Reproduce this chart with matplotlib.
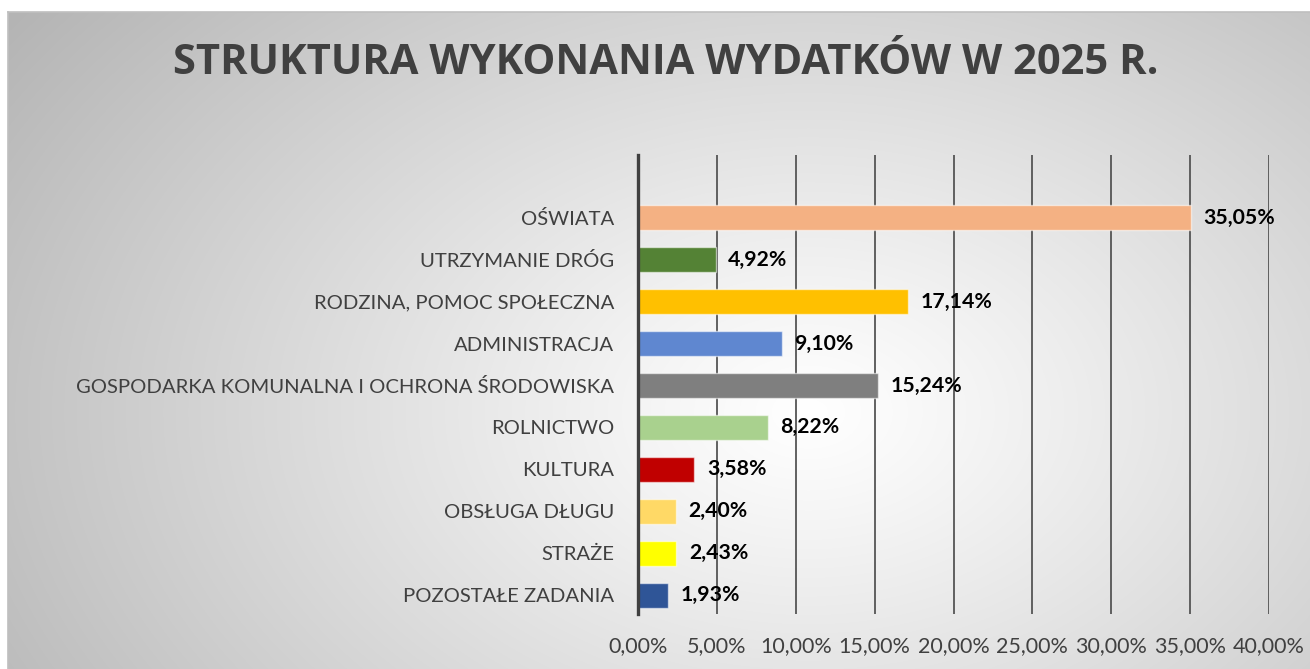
import numpy as np
import matplotlib
matplotlib.use("Agg")
import matplotlib.pyplot as plt
from matplotlib.ticker import FuncFormatter

categories = ["OŚWIATA", "UTRZYMANIE DRÓG", "RODZINA, POMOC SPOŁECZNA", "ADMINISTRACJA",
              "GOSPODARKA KOMUNALNA I OCHRONA ŚRODOWISKA", "ROLNICTWO", "KULTURA",
              "OBSŁUGA DŁUGU", "STRAŻE", "POZOSTAŁE ZADANIA"]
values = [35.05, 4.92, 17.14, 9.10, 15.24, 8.22, 3.58, 2.40, 2.43, 1.93]
colors = ["#F4B183", "#548235", "#FFC000", "#5F87D0", "#7F7F7F", "#A9D18E",
          "#C00000", "#FFD966", "#FFFF00", "#2F5597"]
xticks = [0, 5, 10, 15, 20, 25, 30, 35, 40]
title = "STRUKTURA WYKONANIA WYDATKÓW W 2025 R."

W, H = 1310, 669
fig = plt.figure(figsize=(W / 100, H / 100), dpi=100)
fig.patch.set_facecolor("white")

# background radial gradient panel
bx0, by_top = 8, 12
bg = fig.add_axes([bx0 / W, 0, 1 - bx0 / W, (H - by_top) / H])
gw, gh = W - bx0, H - by_top
yy, xx = np.mgrid[0:gh, 0:gw]
cx, cy = 800, 400
r = np.sqrt(((xx - cx) / 820.0) ** 2 + ((yy - cy) / 560.0) ** 2)
v = 1 - 0.24 * np.clip(r, 0, 1.2) ** 1.1
img = np.dstack([v, v, v])
bg.imshow(img, aspect="auto", extent=[0, 1, 0, 1], interpolation="bilinear")
bg.set_xlim(0, 1); bg.set_ylim(0, 1)
bg.axis("off")
fig.add_artist(plt.Line2D([bx0 / W, 1], [1 - by_top / H, 1 - by_top / H],
                          transform=fig.transFigure, color="#bfbfbf", lw=1.2))
fig.add_artist(plt.Line2D([bx0 / W, bx0 / W], [0, 1 - by_top / H],
                          transform=fig.transFigure, color="#bfbfbf", lw=1.2))

ax = fig.add_axes([638 / W, 1 - 614 / H, (1269 - 638) / W, (614 - 155) / H])
ax.set_facecolor("none")
y = np.arange(len(categories))
ax.barh(y, values, height=0.6, color=colors, edgecolor=(1, 1, 1, 0.55), linewidth=1.0, zorder=3)
ax.set_ylim(9.45, -1.5)
ax.set_xlim(0, 40)
ax.set_xticks(xticks)
ax.xaxis.set_major_formatter(FuncFormatter(lambda x, p: f"{x:.2f}".replace(".", ",") + "%"))
ax.set_yticks(y)
ax.set_yticklabels(categories)
ax.tick_params(axis="both", length=0, labelcolor="#404040")
ax.tick_params(axis="x", pad=16, labelsize=15.5)
ax.tick_params(axis="y", pad=17, labelsize=14.6)
for lbl in ax.get_xticklabels() + ax.get_yticklabels():
    lbl.set_family("Lato")
ax.grid(axis="x", color="#555555", lw=1.3, zorder=1)
for s in ["top", "right", "bottom"]:
    ax.spines[s].set_visible(False)
ax.spines["left"].set_color("#404040")
ax.spines["left"].set_linewidth(2.4)
ax.spines["left"].set_zorder(4)

for yi, val in zip(y, values):
    ax.annotate(f"{val:.2f}".replace(".", ",") + "%", xy=(val, yi), xytext=(9, 0),
                textcoords="offset points", va="center", ha="left",
                fontsize=15.3, fontweight="bold", family="Lato", color="black", zorder=5)

fig.text(666 / W, 1 - 63 / H, title, ha="center", va="center", fontsize=30,
         fontweight="bold", family="Open Sans", color="#404040")

fig.savefig("out.png", dpi=100)
